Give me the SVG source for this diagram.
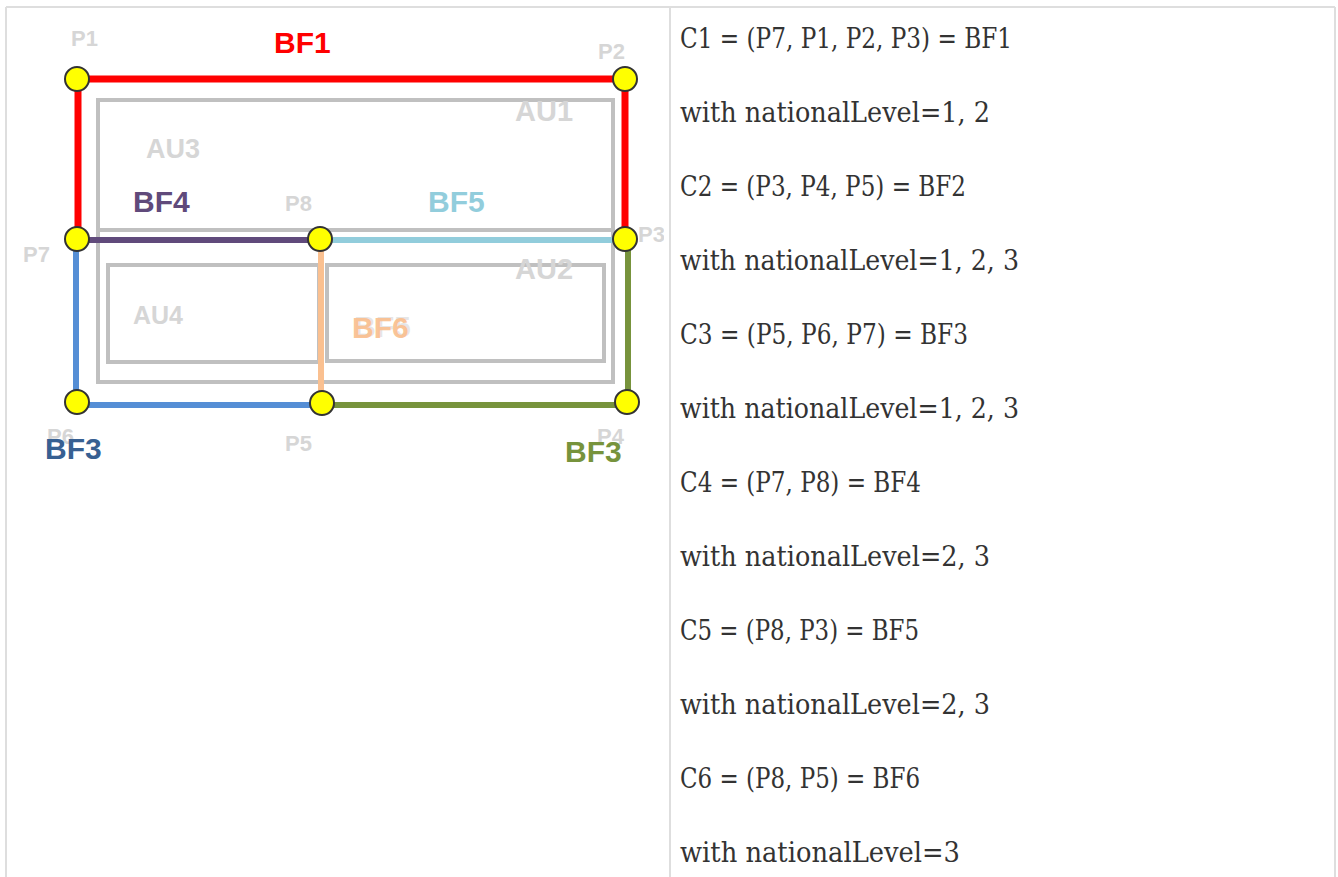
<svg xmlns="http://www.w3.org/2000/svg" width="1338" height="877" viewBox="0 0 1338 877">
<style>
.tb{stroke:#dedede;stroke-width:2;fill:none}
.au{fill:none;stroke:#c0c0c0;stroke-width:4}
.pt{fill:#ffff00;stroke:#333;stroke-width:2}
.lbl{font-family:"Liberation Sans",Arial,sans-serif;font-weight:bold}
.pl{fill:#d6d6d6;font-size:22px}
.aul{fill:#d6d6d6;font-size:29px}
.bf{font-size:30px}
.ln{fill:none;stroke-linecap:butt}
.tx{font-family:"DejaVu Serif",serif;font-size:27px;fill:#333}
</style>
<defs>
<clipPath id="cell"><rect x="0" y="0" width="664" height="877"/></clipPath>
</defs>
<rect width="1338" height="877" fill="#fff"/>
<g id="table">
<line class="tb" x1="6" y1="7" x2="1335" y2="7"/>
<line class="tb" x1="6" y1="7" x2="6" y2="877"/>
<line class="tb" x1="670" y1="7" x2="670" y2="877"/>
<line class="tb" x1="1335" y1="7" x2="1335" y2="877"/>
</g>
<g id="areas">
<rect class="au" x="98" y="100" width="515" height="282"/>
<line class="au" x1="98" y1="230" x2="613" y2="230"/>
<rect class="au" x="108" y="265" width="211" height="97"/>
<rect class="au" x="327" y="265" width="277" height="96"/>
</g>
<g id="connectors">
<polyline class="ln" stroke="#ff0000" stroke-width="7" points="78,239 78,79 625,79 625,239"/>
<line class="ln" stroke="#604a7b" stroke-width="6" x1="77" y1="240" x2="320" y2="240"/>
<line class="ln" stroke="#92cddc" stroke-width="6" x1="320" y1="240" x2="625" y2="240"/>
<polyline class="ln" stroke="#558ed5" stroke-width="6" points="76,239 76,405 322,405"/>
<polyline class="ln" stroke="#77933c" stroke-width="6" points="322,405 628,405 628,239"/>
<line class="ln" stroke="#fac090" stroke-width="6" x1="321" y1="240" x2="321" y2="403"/>
</g>
<g id="labels" class="lbl" clip-path="url(#cell)">
<text class="pl" x="71" y="46">P1</text>
<text class="pl" x="598" y="59">P2</text>
<text class="pl" x="638" y="242">P3</text>
<text class="pl" x="597" y="444">P4</text>
<text class="pl" x="285" y="451">P5</text>
<text class="pl" x="47" y="444">P6</text>
<text class="pl" x="23" y="262">P7</text>
<text class="pl" x="285" y="211">P8</text>
<text class="aul" x="515" y="121">AU1</text>
<text class="aul" x="515" y="279">AU2</text>
<text class="aul" x="146" y="158" style="font-size:27px">AU3</text>
<text class="aul" x="133" y="324" style="font-size:25px">AU4</text>
<text class="bf" x="274" y="53" fill="#ff0000">BF1</text>
<text class="bf" x="133" y="212" fill="#604a7b">BF4</text>
<text class="bf" x="428" y="212" fill="#92cddc">BF5</text>
<text class="bf" x="354" y="337" fill="#e0e0e0" opacity="0.8">BF5</text>
<text class="bf" x="352" y="338" fill="#fac090" opacity="0.92">BF6</text>
<text class="bf" x="45" y="459" fill="#376092">BF3</text>
<text class="bf" x="565" y="462" fill="#77933c">BF3</text>
</g>
<g id="points">
<circle class="pt" cx="77" cy="79" r="12"/>
<circle class="pt" cx="625" cy="79" r="12"/>
<circle class="pt" cx="625" cy="239" r="12"/>
<circle class="pt" cx="627" cy="402" r="12"/>
<circle class="pt" cx="322" cy="403" r="12"/>
<circle class="pt" cx="77" cy="402" r="12"/>
<circle class="pt" cx="77" cy="239" r="12"/>
<circle class="pt" cx="320" cy="239" r="12"/>
</g>
<g id="text">
<text class="tx" x="680" y="48" textLength="332" lengthAdjust="spacingAndGlyphs">C1 = (P7, P1, P2, P3) = BF1</text>
<text class="tx" x="680" y="122" textLength="310" lengthAdjust="spacingAndGlyphs">with nationalLevel=1, 2</text>
<text class="tx" x="680" y="196" textLength="286" lengthAdjust="spacingAndGlyphs">C2 = (P3, P4, P5) = BF2</text>
<text class="tx" x="680" y="270" textLength="339" lengthAdjust="spacingAndGlyphs">with nationalLevel=1, 2, 3</text>
<text class="tx" x="680" y="344" textLength="288" lengthAdjust="spacingAndGlyphs">C3 = (P5, P6, P7) = BF3</text>
<text class="tx" x="680" y="418" textLength="339" lengthAdjust="spacingAndGlyphs">with nationalLevel=1, 2, 3</text>
<text class="tx" x="680" y="492" textLength="241" lengthAdjust="spacingAndGlyphs">C4 = (P7, P8) = BF4</text>
<text class="tx" x="680" y="566" textLength="310" lengthAdjust="spacingAndGlyphs">with nationalLevel=2, 3</text>
<text class="tx" x="680" y="640" textLength="239" lengthAdjust="spacingAndGlyphs">C5 = (P8, P3) = BF5</text>
<text class="tx" x="680" y="714" textLength="310" lengthAdjust="spacingAndGlyphs">with nationalLevel=2, 3</text>
<text class="tx" x="680" y="788" textLength="240" lengthAdjust="spacingAndGlyphs">C6 = (P8, P5) = BF6</text>
<text class="tx" x="680" y="862" textLength="280" lengthAdjust="spacingAndGlyphs">with nationalLevel=3</text>
</g>
</svg>
